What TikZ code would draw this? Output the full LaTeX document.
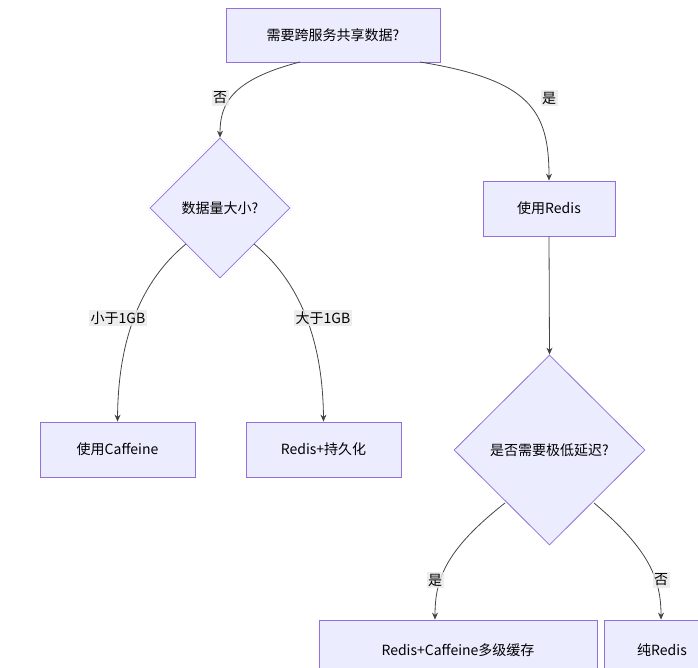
\documentclass[tikz,border=0pt]{standalone}
\usepackage{fontspec}
\setmainfont{Noto Sans CJK SC}
\usetikzlibrary{shapes.geometric,arrows.meta}
\definecolor{nfill}{HTML}{ECECFF}
\definecolor{nline}{HTML}{9370DB}
\definecolor{eline}{HTML}{444444}
\definecolor{lbg}{HTML}{E8E8E8}
\begin{document}
\begin{tikzpicture}[x=1pt,y=-1pt,font=\fontsize{14}{16}\selectfont,
 box/.style={draw=nline,fill=nfill,line width=0.8pt,rectangle,inner sep=0pt},
 dia/.style={draw=nline,fill=nfill,line width=0.8pt,diamond,inner sep=0pt},
 edge/.style={draw=eline,line width=0.8pt,-{Stealth[length=7pt,width=6pt]}},
 lab/.style={fill=lbg,fill opacity=0.8,text opacity=1,inner sep=1.5pt}]
\useasboundingbox (0,0) rectangle (698,668);
\clip (0,0) rectangle (698,668);
\node[box,minimum width=214,minimum height=54] (top) at (333,35) {需要跨服务共享数据?};
\node[dia,minimum width=140,minimum height=140] (d1) at (220,208) {数据量大小?};
\node[box,minimum width=132,minimum height=55] (redis) at (549,208.5) {使用Redis};
\node[box,minimum width=155,minimum height=55] (caf) at (117.5,449.5) {使用Caffeine};
\node[box,minimum width=155,minimum height=55] (pers) at (323.5,449.5) {Redis+持久化};
\node[dia,minimum width=191,minimum height=190] (d2) at (549.5,450) {是否需要极低延迟?};
\node[box,minimum width=278,minimum height=60] (multi) at (458,650) {Redis+Caffeine多级缓存};
\node[box,minimum width=116,minimum height=60] (pure) at (662,650) {纯Redis};
\coordinate (t1) at (300,62);
\coordinate (t2) at (420,62);
\coordinate (a1) at (186,244);
\coordinate (a2) at (254,244);
\coordinate (b1) at (505,503);
\coordinate (b2) at (594,503);
\draw[edge] (t1) .. controls (230,80) and (220,105) .. (d1.north);
\draw[edge] (t2) .. controls (530,80) and (549,110) .. (redis.north);
\draw[edge] (a1) .. controls (130,290) and (118,360) .. (caf.north);
\draw[edge] (a2) .. controls (310,290) and (323,360) .. (pers.north);
\draw[edge] (redis.south) -- (d2.north);
\draw[edge] (b1) .. controls (445,550) and (435,580) .. (multi.north -| 435,0);
\draw[edge] (b2) .. controls (650,550) and (661,580) .. (pure.north -| 661,0);
\node[lab] at (220,98) {否};
\node[lab] at (549,98) {是};
\node[lab] at (118,318) {小于1GB};
\node[lab] at (323,318) {大于1GB};
\node[lab] at (435,580) {是};
\node[lab] at (661,580) {否};
\end{tikzpicture}
\end{document}
